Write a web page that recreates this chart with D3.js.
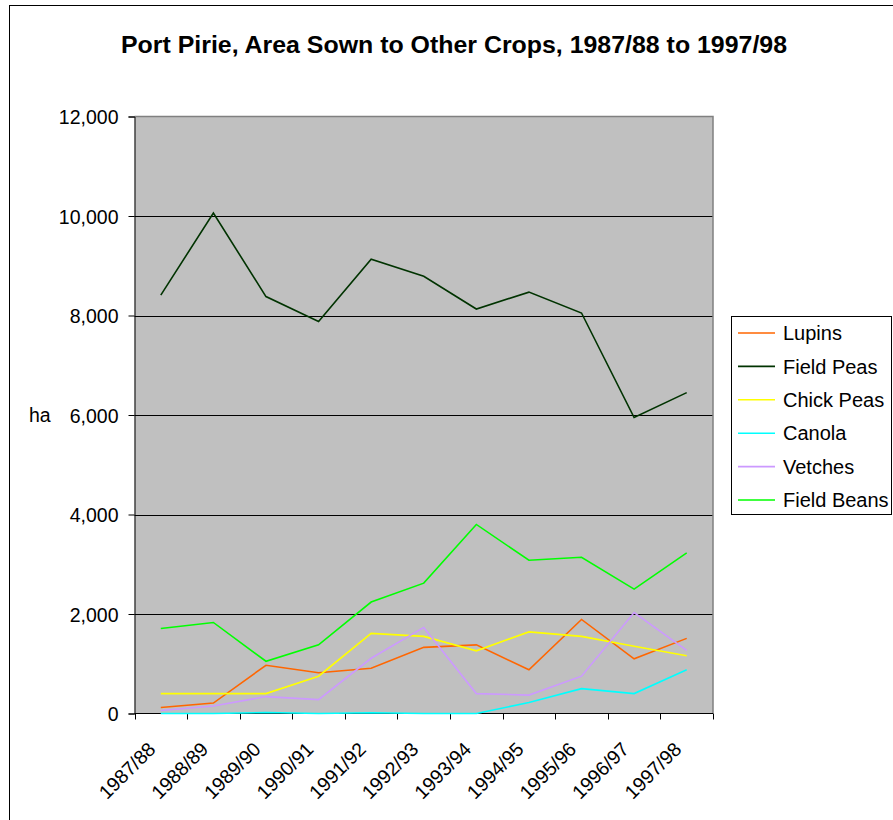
<!DOCTYPE html>
<html>
<head>
<meta charset="utf-8">
<script src="https://cdn.jsdelivr.net/npm/d3@7"></script>
<style>
  body { margin: 0; background: #fff; }
  svg text { font-family: Arial, "Liberation Sans", sans-serif; fill: #000; }
</style>
</head>
<body>
<div id="chart"></div>
<script>
// chart data
const years = ['1987/88','1988/89','1989/90','1990/91','1991/92','1992/93','1993/94','1994/95','1995/96','1996/97','1997/98'];
const lupins     = [120, 210, 970, 820, 910, 1330, 1380, 880, 1890, 1100, 1510];
const fieldPeas  = [8410, 10060, 8380, 7880, 9130, 8790, 8130, 8470, 8050, 5950, 6450];
const chickPeas  = [400, 400, 400, 750, 1610, 1550, 1260, 1640, 1550, 1350, 1160];
const canola     = [0, 0, 20, 0, 15, 0, 0, 220, 500, 400, 880];
const vetches    = [60, 150, 340, 280, 1110, 1730, 400, 370, 750, 2030, 1270];
const fieldBeans = [1710, 1830, 1050, 1380, 2240, 2620, 3800, 3080, 3140, 2500, 3230];
const yTicks = [0, 2000, 4000, 6000, 8000, 10000, 12000];

const series = [
  {name: 'Lupins', values: lupins, color: '#FF6600'},
  {name: 'Field Peas', values: fieldPeas, color: '#003300'},
  {name: 'Chick Peas', values: chickPeas, color: '#FFFF00'},
  {name: 'Canola', values: canola, color: '#00FFFF'},
  {name: 'Vetches', values: vetches, color: '#CC99FF'},
  {name: 'Field Beans', values: fieldBeans, color: '#00FF00'}
];

const W = 893, H = 820;
const plot = {left: 134.5, top: 116.5, right: 713, bottom: 713.5};

const svg = d3.select('#chart').append('svg')
    .attr('width', W)
    .attr('height', H);

// outer chart border
svg.append('rect')
    .attr('x', 9.5).attr('y', 5.5)
    .attr('width', W + 10).attr('height', H + 10)
    .attr('fill', '#fff')
    .attr('stroke', '#000')
    .attr('stroke-width', 1);

// scales
const x = d3.scaleBand()
    .domain(years)
    .range([plot.left, plot.right]);
const y = d3.scaleLinear()
    .domain([0, 12000])
    .range([plot.bottom, plot.top]);

// plot background
svg.append('rect')
    .attr('x', plot.left).attr('y', plot.top)
    .attr('width', plot.right - plot.left)
    .attr('height', plot.bottom - plot.top)
    .attr('fill', '#C0C0C0');

// gridlines
svg.append('g')
  .selectAll('line')
  .data(yTicks.filter(d => d > 0 && d < 12000))
  .join('line')
    .attr('x1', plot.left).attr('x2', plot.right)
    .attr('y1', d => Math.round(y(d)) + 0.5)
    .attr('y2', d => Math.round(y(d)) + 0.5)
    .attr('stroke', '#000');

// plot frame top/right (gray)
svg.append('path')
    .attr('d', `M${plot.left},${plot.top} H${plot.right} V${plot.bottom}`)
    .attr('fill', 'none')
    .attr('stroke', '#808080')
    .attr('stroke-width', 1.5);

// y axis
const yAxis = svg.append('g')
    .attr('transform', `translate(${plot.left},0)`)
    .call(d3.axisLeft(y).tickValues(yTicks).tickSize(6).tickPadding(10)
      .tickFormat(d3.format(',')));
yAxis.select('.domain').attr('stroke', '#000');
yAxis.selectAll('.tick line').attr('stroke', '#000');
yAxis.selectAll('text')
    .attr('font-size', 19.5)
    .attr('dy', '0.36em');

// y label
svg.append('text')
    .attr('x', 29)
    .attr('y', y(6000))
    .attr('dy', '0.36em')
    .attr('font-size', 19.5)
    .text('ha');

// x axis (ticks between categories)
const xAxisG = svg.append('g');
xAxisG.append('line')
    .attr('x1', plot.left).attr('x2', plot.right)
    .attr('y1', plot.bottom).attr('y2', plot.bottom)
    .attr('stroke', '#000');
xAxisG.selectAll('.xtick')
  .data(years.map(d => x(d)).concat([plot.right]))
  .join('line')
    .attr('class', 'xtick')
    .attr('x1', d => Math.round(d) + 0.5).attr('x2', d => Math.round(d) + 0.5)
    .attr('y1', plot.bottom).attr('y2', plot.bottom + 6)
    .attr('stroke', '#000');
xAxisG.selectAll('.xlabel')
  .data(years)
  .join('text')
    .attr('class', 'xlabel')
    .attr('text-anchor', 'end')
    .attr('font-size', 19.5)
    .attr('transform', d => `translate(${x(d) + x.bandwidth() / 2 - 4},${plot.bottom + 37}) rotate(-45)`)
    .text(d => d);

// lines
const line = d3.line()
    .x((d, i) => x(years[i]) + x.bandwidth() / 2)
    .y(d => y(d));

svg.append('g')
  .selectAll('path')
  .data(series)
  .join('path')
    .attr('d', d => line(d.values))
    .attr('fill', 'none')
    .attr('stroke', d => d.color)
    .attr('stroke-width', 1.6)
    .attr('stroke-linejoin', 'miter');

// title
svg.append('text')
    .attr('x', 454)
    .attr('y', 53)
    .attr('text-anchor', 'middle')
    .attr('font-size', 23)
    .attr('font-weight', 'bold')
    .attr('textLength', 666)
    .attr('lengthAdjust', 'spacingAndGlyphs')
    .text('Port Pirie, Area Sown to Other Crops, 1987/88 to 1997/98');

// legend
const legend = svg.append('g');
legend.append('rect')
    .attr('x', 731.5).attr('y', 316.5)
    .attr('width', 160).attr('height', 198)
    .attr('fill', '#fff')
    .attr('stroke', '#000');
const items = legend.selectAll('.item')
  .data(series)
  .join('g')
    .attr('class', 'item')
    .attr('transform', (d, i) => `translate(0,${333 + i * 33.4})`);
items.append('line')
    .attr('x1', 738).attr('x2', 775)
    .attr('stroke', d => d.color)
    .attr('stroke-width', 1.6);
items.append('text')
    .attr('x', 783)
    .attr('dy', '0.36em')
    .attr('font-size', 20)
    .text(d => d.name);
</script>
</body>
</html>
